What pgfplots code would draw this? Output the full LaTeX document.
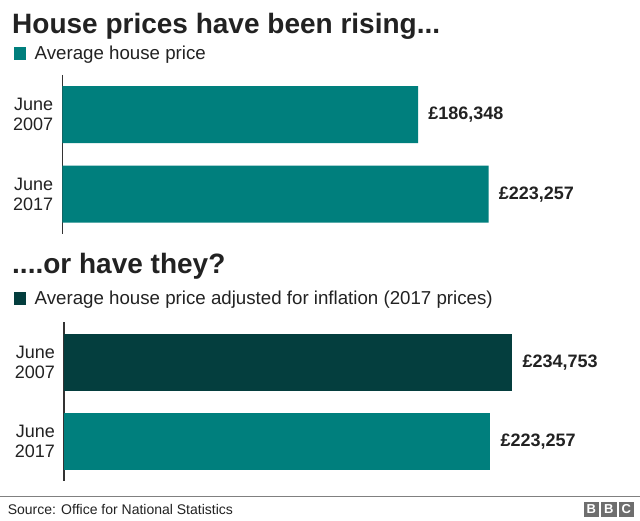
\documentclass[border=0pt]{standalone}
\usepackage{pgfplots}
\pgfplotsset{compat=1.18}
\usepackage{fontspec}
\setmainfont{Liberation Sans}
\definecolor{bbcteal}{RGB}{0,127,125}
\definecolor{bbcdark}{RGB}{4,62,62}
\definecolor{txt}{RGB}{34,34,34}
\definecolor{axisc}{RGB}{51,51,51}
\definecolor{sepc}{RGB}{128,128,128}
\definecolor{logoc}{RGB}{110,110,110}
\pgfplotsset{bbc/.style={
  xbar, bar shift=0pt, bar width=57pt,
  scale only axis, width=573pt, height=159pt,
  xmin=0, xmax=300000, ymin=-0.5, ymax=1.5, y dir=reverse,
  axis x line=none, axis y line*=left,
  y axis line style={draw=axisc, line width=1pt},
  ytick={0,1}, yticklabels={{June\\2007},{June\\2017}},
  major tick length=0pt,
  yticklabel style={align=right, font=\fontsize{18}{20}\selectfont, text=txt, inner sep=0pt, xshift=-9pt},
  point meta=explicit symbolic,
  nodes near coords,
  every node near coord/.append style={anchor=base west, inner sep=0pt, xshift=10pt, yshift=-5pt, font=\bfseries\fontsize{18}{20}\selectfont, text=txt},
  anchor=north west,
  clip=false,
}}
\begin{document}
\begin{tikzpicture}
\useasboundingbox (0,0) rectangle (640pt,521pt);
\fill[white] (0,0) rectangle (640pt,521pt);
% titles and legends
\node[anchor=base west, inner sep=0pt, text=txt, font=\bfseries\fontsize{28}{30}\selectfont] at (12pt,487pt) {House prices have been rising...};
\fill[bbcteal] (14pt,461pt) rectangle (26pt,474pt);
\node[anchor=base west, inner sep=0pt, text=txt, font=\fontsize{18.7}{20}\selectfont] at (34.5pt,461.7pt) {Average house price};
\node[anchor=base west, inner sep=0pt, text=txt, font=\bfseries\fontsize{28}{30}\selectfont] at (12pt,247.7pt) {....or have they?};
\fill[bbcdark] (14pt,216pt) rectangle (26pt,229pt);
\node[anchor=base west, inner sep=0pt, text=txt, font=\fontsize{18.7}{20}\selectfont] at (34.5pt,216.7pt) {Average house price adjusted for inflation (2017 prices)};
% top chart
\begin{axis}[bbc, at={(62.3pt,446pt)}]
\addplot[fill=bbcteal, draw=none] coordinates {(186348,0) [{£186,348}] (223257,1) [{£223,257}]};
\end{axis}
% bottom chart
\begin{axis}[bbc, at={(64pt,198.5pt)}]
\addplot[fill=bbcdark, draw=none] coordinates {(234753,0) [{£234,753}]};
\addplot[fill=bbcteal, draw=none] coordinates {(223257,1) [{£223,257}]};
\end{axis}
% footer
\draw[sepc, line width=1pt] (0,24.3pt) -- (640pt,24.3pt);
\node[anchor=base west, inner sep=0pt, text=txt, font=\fontsize{14}{16}\selectfont] at (7.6pt,6pt) {Source: Office for National Statistics};
\foreach \xx/\ll in {583.5/B,601/B,618.5/C}{
  \fill[logoc] (\xx pt,4.3pt) rectangle ({(\xx+15.5)*1pt},18.7pt);
  \node[text=white, inner sep=0pt, font=\bfseries\fontsize{13}{13}\selectfont] at ({(\xx+7.75)*1pt},11.5pt) {\ll};
}
\end{tikzpicture}
\end{document}
